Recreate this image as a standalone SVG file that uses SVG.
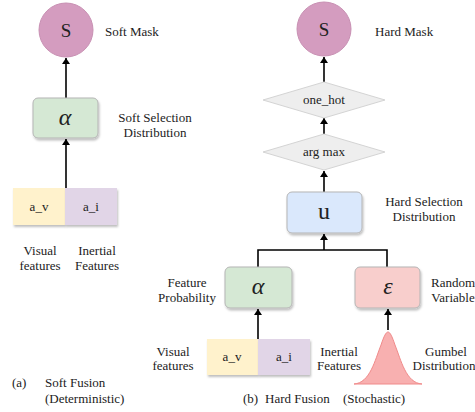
<svg xmlns="http://www.w3.org/2000/svg" width="475" height="412" viewBox="0 0 475 412" font-family="'Liberation Serif', 'Times New Roman', 'DejaVu Serif', serif">
<defs>
<marker id="ah" markerWidth="6" markerHeight="8" refX="6" refY="4" orient="auto" markerUnits="userSpaceOnUse">
<path d="M0,0 L6,4 L0,8 Z" fill="#000"/>
</marker>
<filter id="sh" x="-10%" y="-10%" width="130%" height="140%">
<feDropShadow dx="1" dy="2" stdDeviation="1" flood-color="#000" flood-opacity="0.25"/>
</filter>
</defs>
<style>
text{font-family:'Liberation Serif','Times New Roman','DejaVu Serif',serif;fill:#222}
.lb{font-size:13px}
.m{text-anchor:middle}
.sym{font-size:24px;font-style:italic;text-anchor:middle}
.box{stroke:#b5b5b5;stroke-width:1;filter:url(#sh)}
.cn{fill:none;stroke:#000;stroke-width:1.6}
.dia{fill:#eeeeee;stroke:#d4d4d4;stroke-width:1}
</style>
<rect width="475" height="412" fill="#fff"/>

<g id="connectors">
<line class="cn" x1="66" y1="98" x2="66" y2="58" marker-end="url(#ah)"/>
<line class="cn" x1="66" y1="188" x2="66" y2="139" marker-end="url(#ah)"/>
<line class="cn" x1="324" y1="82" x2="324" y2="57" marker-end="url(#ah)"/>
<line class="cn" x1="324" y1="134" x2="324" y2="118" marker-end="url(#ah)"/>
<line class="cn" x1="324" y1="192" x2="324" y2="171" marker-end="url(#ah)"/>
<polyline class="cn" points="258,267 258,250 387,250 387,267"/>
<line class="cn" x1="324" y1="250" x2="324" y2="234" marker-end="url(#ah)"/>
<line class="cn" x1="258" y1="339" x2="258" y2="309" marker-end="url(#ah)"/>
<line class="cn" x1="388" y1="330" x2="388" y2="309" marker-end="url(#ah)"/>
</g>

<g id="soft-mask">
<circle cx="66" cy="30" r="27" fill="#d49cbf" stroke="#c890b3" stroke-width="1"/>
<text x="66" y="37" font-size="19" class="m">S</text>
<text x="105" y="36" class="lb">Soft Mask</text>
</g>
<g id="soft-alpha">
<rect class="box" x="33" y="98" width="65" height="40" rx="5" fill="#d5e8d4"/>
<text x="65" y="125" class="sym">α</text>
<text x="155" y="122" class="lb m">Soft Selection</text>
<text x="155" y="137" class="lb m">Distribution</text>
</g>
<g id="soft-features">
<rect x="13" y="188" width="52" height="37" fill="#fff2cc" filter="url(#sh)"/>
<rect x="65" y="188" width="52" height="37" fill="#e1d5e7" filter="url(#sh)"/>
<text x="39" y="211" class="lb m">a_v</text>
<text x="91" y="211" class="lb m">a_i</text>
<text x="40" y="255" class="lb m">Visual</text>
<text x="40" y="270" class="lb m">features</text>
<text x="97" y="255" class="lb m">Inertial</text>
<text x="97" y="270" class="lb m">Features</text>
</g>
<g id="caption-a">
<text x="12" y="387" class="lb">(a)</text>
<text x="45" y="387" class="lb">Soft Fusion</text>
<text x="45" y="403" class="lb">(Deterministic)</text>
</g>

<g id="hard-mask">
<circle cx="324" cy="29" r="27" fill="#d49cbf" stroke="#c890b3" stroke-width="1"/>
<text x="324" y="36" font-size="19" class="m">S</text>
<text x="375" y="36" class="lb">Hard Mask</text>
</g>
<g id="one-hot">
<polygon class="dia" points="263,100 324,82 385,100 324,118"/>
<text x="324" y="104" class="lb m">one_hot</text>
</g>
<g id="arg-max">
<polygon class="dia" points="263,152 324,134 385,152 324,170"/>
<text x="324" y="156" class="lb m">arg max</text>
</g>
<g id="u">
<rect class="box" x="287" y="192" width="75" height="41" rx="5" fill="#dae8fc"/>
<text x="324" y="219" font-size="24" class="m">u</text>
<text x="424" y="206" class="lb m">Hard Selection</text>
<text x="424" y="221" class="lb m">Distribution</text>
</g>
<g id="hard-alpha">
<rect class="box" x="225" y="267" width="67" height="41" rx="5" fill="#d5e8d4"/>
<text x="258" y="294" class="sym">α</text>
<text x="187" y="287" class="lb m">Feature</text>
<text x="187" y="302" class="lb m">Probability</text>
</g>
<g id="epsilon">
<rect class="box" x="355" y="267" width="65" height="41" rx="5" fill="#f8cecc"/>
<text x="388" y="294" class="sym">ε</text>
<text x="453" y="287" class="lb m">Random</text>
<text x="453" y="302" class="lb m">Variable</text>
</g>
<g id="hard-features">
<rect x="207" y="339" width="51" height="36" fill="#fff2cc" filter="url(#sh)"/>
<rect x="258" y="339" width="52" height="36" fill="#e1d5e7" filter="url(#sh)"/>
<text x="232" y="361" class="lb m">a_v</text>
<text x="284" y="361" class="lb m">a_i</text>
<text x="173" y="356" class="lb m">Visual</text>
<text x="173" y="370" class="lb m">features</text>
<text x="339" y="356" class="lb m">Inertial</text>
<text x="339" y="370" class="lb m">Features</text>
</g>
<g id="gumbel">
<path d="M354,384 C370,383 375,360 381,345 C384,336 386,332 388,332 C390,332 392,336 395,345 C401,360 406,383 422,384 Z" fill="#f8b0b0" stroke="#f08a8a" stroke-width="1"/>
<text x="446" y="356" class="lb m">Gumbel</text>
<text x="444" y="370" class="lb m">Distribution</text>
</g>
<g id="caption-b">
<text x="243" y="403" class="lb">(b)</text>
<text x="265" y="403" class="lb">Hard Fusion</text>
<text x="343" y="403" class="lb">(Stochastic)</text>
</g>
</svg>
